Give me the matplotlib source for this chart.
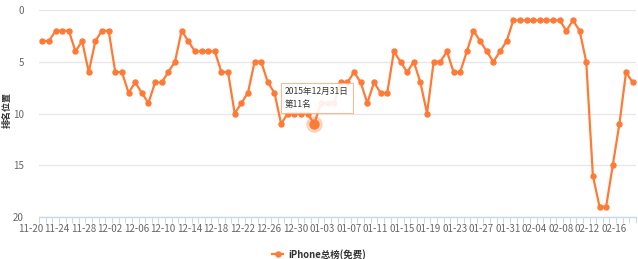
import numpy as np
import pandas as pd
import matplotlib
matplotlib.use('Agg')
import matplotlib.pyplot as plt
import matplotlib.transforms as mtransforms

plt.rcParams['font.family'] = ['Noto Sans CJK SC', 'DejaVu Sans']

# daily rank of the app, 2015-11-20 .. 2016-02-17
dates = pd.date_range('2015-11-20', periods=90)
date_labels = [d.strftime('%m-%d') for d in dates]

ranks = [3, 3, 2, 2, 2, 4, 3, 6, 3, 2,
         2, 6, 6, 8, 7, 8, 9, 7, 7, 6,
         5, 2, 3, 4, 4, 4, 4, 6, 6, 10,
         9, 8, 5, 5, 7, 8, 11, 10, 10, 10,
         10, 11, 9, 9, 9, 7, 7, 6, 7, 9,
         7, 8, 8, 4, 5, 6, 5, 7, 10, 5,
         5, 4, 6, 6, 4, 2, 3, 4, 5, 4,
         3, 1, 1, 1, 1, 1, 1, 1, 1, 2,
         1, 2, 5, 16, 19, 19, 15, 11, 6, 7]

series_name = 'iPhone总榜(免费)'
hover_idx = 41
hover_text = '2015年12月31日\n第11名'

orange = '#ff7a35'
x = np.arange(len(ranks))

fig = plt.figure(figsize=(6.38, 2.59), dpi=100)
ax = fig.add_axes([39 / 638, 1 - 217 / 259, 597 / 638, 207 / 259])

ax.plot(x, ranks, color=orange, lw=1.6, marker='o', ms=3.6, label=series_name,
        zorder=3)

# highlighted point under the tooltip
ax.plot(x[hover_idx], ranks[hover_idx], 'o', color=orange, ms=11, alpha=0.25, zorder=4)
ax.plot(x[hover_idx], ranks[hover_idx], 'o', color=orange, ms=6.5, zorder=5)

ax.set_xlim(-0.5, len(ranks) - 0.5)
ax.set_ylim(20, 0)
ax.set_yticks([0, 5, 10, 15, 20])
ax.grid(axis='y', color='#e6e6e6', lw=0.9)
ax.set_axisbelow(True)

for s in ['top', 'right', 'left']:
    ax.spines[s].set_visible(False)
ax.spines['bottom'].set_color('#c9dbea')
ax.spines['bottom'].set_linewidth(1.0)

ax.tick_params(axis='y', length=0, pad=11, labelsize=7, labelcolor='#666666')

# category boundary ticks
ax.set_xticks(np.arange(-0.5, len(ranks), 1))
ax.set_xticklabels([])
ax.tick_params(axis='x', which='major', length=4, color='#c9dbea', width=0.8)
# labels every 4 days
ax.set_xticks(x[::4], minor=True)
ax.set_xticklabels(date_labels[::4], minor=True)
ax.tick_params(axis='x', which='minor', length=0, pad=5, labelsize=7,
               labelcolor='#666666')
shift = mtransforms.ScaledTranslation(-12 / 100, 0, fig.dpi_scale_trans)
for lab in ax.get_xticklabels(minor=True):
    lab.set_transform(lab.get_transform() + shift)

ax.set_ylabel('排名位置', fontsize=6.5, color='#333333', fontweight='bold')
ax.yaxis.set_label_coords(-27 / 597, 0.515)

# tooltip
ax.text(x[hover_idx] - 4.4, 8.5, hover_text, fontsize=6.2,
        color='#333333', va='center', ha='left', linespacing=1.45, zorder=6,
        bbox=dict(boxstyle='square,pad=0.5', fc='white', ec='#f7b48c',
                  lw=0.8, alpha=0.9))

leg = fig.legend(loc='lower center', bbox_to_anchor=(0.5, -0.035), frameon=False,
                 fontsize=6.8, handlelength=1.2, handletextpad=0.5,
                 labelcolor='#333333')
for t in leg.get_texts():
    t.set_fontweight('bold')

fig.savefig('out.png', dpi=100)
